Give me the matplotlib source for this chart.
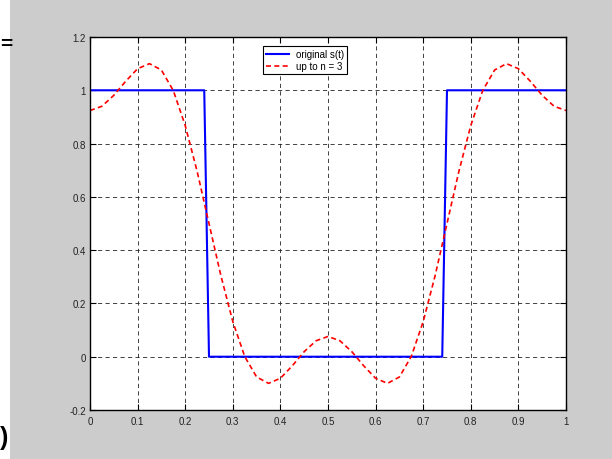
import matplotlib
matplotlib.use('Agg')
import matplotlib.pyplot as plt
from matplotlib.patches import Rectangle

# original square wave s(t)
t_orig = [0, 0.24, 0.25, 0.74, 0.75, 1.0]
s_orig = [1, 1, 0, 0, 1, 1]

# partial sum up to n = 3
t_approx = [0.000, 0.025, 0.050, 0.075, 0.100, 0.125, 0.150, 0.175, 0.200, 0.225,
            0.250, 0.275, 0.300, 0.325, 0.350, 0.375, 0.400, 0.425, 0.450, 0.475,
            0.500, 0.525, 0.550, 0.575, 0.600, 0.625, 0.650, 0.675, 0.700, 0.725,
            0.750, 0.775, 0.800, 0.825, 0.850, 0.875, 0.900, 0.925, 0.950, 0.975, 1.000]
s_approx = [0.924, 0.940, 0.981, 1.034, 1.081, 1.100, 1.076, 0.999, 0.868, 0.696,
            0.500, 0.304, 0.132, 0.001, -0.076, -0.100, -0.081, -0.034, 0.019, 0.060,
            0.076, 0.060, 0.019, -0.034, -0.081, -0.100, -0.076, 0.001, 0.132, 0.304,
            0.500, 0.696, 0.868, 0.999, 1.076, 1.100, 1.081, 1.034, 0.981, 0.940, 0.924]

x_ticks = [0, 0.1, 0.2, 0.3, 0.4, 0.5, 0.6, 0.7, 0.8, 0.9, 1]
x_labels = ['0', '0.1', '0.2', '0.3', '0.4', '0.5', '0.6', '0.7', '0.8', '0.9', '1']
y_ticks = [-0.2, 0, 0.2, 0.4, 0.6, 0.8, 1, 1.2]
y_labels = ['-0.2', '0', '0.2', '0.4', '0.6', '0.8', '1', '1.2']

plt.rcParams['font.family'] = ['Liberation Sans', 'DejaVu Sans']

fig = plt.figure(figsize=(6.12, 4.6), dpi=100, facecolor='#cccccc')

# white strip on the far left with bits of neighbouring text
fig.patches.append(Rectangle((0, 0), 10 / 612, 1, transform=fig.transFigure,
                             facecolor='white', edgecolor='none', zorder=0))
fig.text(0.0, 1 - 44 / 460, '=', fontsize=15, fontweight='bold', va='center', ha='left')
fig.text(0.0, 1 - 438 / 460, ')', fontsize=18, fontweight='bold', va='center', ha='left')

ax = fig.add_axes([90 / 612, 49 / 460, 476 / 612, 373 / 460])
ax.set_facecolor('white')

ax.plot(t_orig, s_orig, color='#0000ff', lw=1.5, label='original s(t)')
ax.plot(t_approx, s_approx, color='#ff0000', lw=1.2, ls=(0, (3, 2)), label='up to n = 3')

ax.set_xlim(0, 1)
ax.set_ylim(-0.2, 1.2)
ax.set_xticks(x_ticks)
ax.set_xticklabels(x_labels)
ax.set_yticks(y_ticks)
ax.set_yticklabels(y_labels)
ax.tick_params(direction='in', length=4, width=0.8, labelsize=7, colors='black',
               labelcolor='#222222', top=True, right=True, pad=3)
ax.tick_params(axis='x', pad=4)

ax.grid(True, color='#222222', lw=0.6, ls=(0, (5, 4)))
for sp in ax.spines.values():
    sp.set_linewidth(1.0)
    sp.set_color('black')

leg = ax.legend(loc='upper left', bbox_to_anchor=(173 / 476, 1 - 9 / 373), fontsize=7,
                fancybox=False, framealpha=1, edgecolor='black', borderpad=0.3,
                handlelength=2.4, handletextpad=0.7, labelspacing=0.25, borderaxespad=0)
leg.get_frame().set_linewidth(0.8)

fig.savefig('out.png', dpi=100, facecolor=fig.get_facecolor())
